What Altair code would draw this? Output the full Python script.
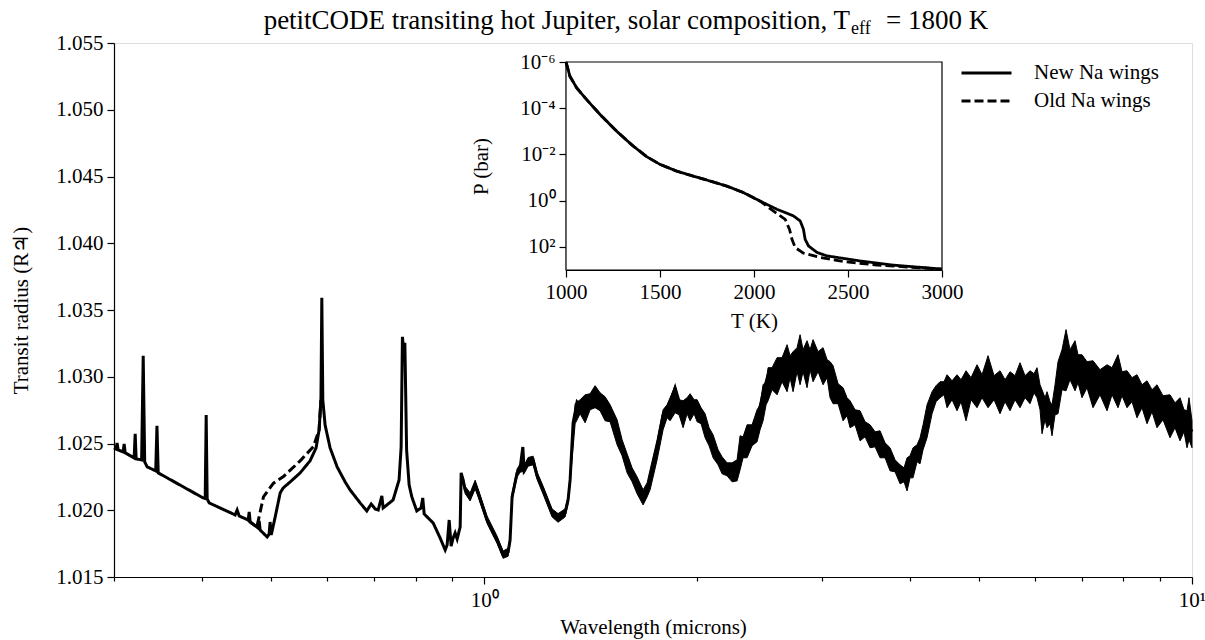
import altair as alt
import pandas as pd

FONT = "Liberation Serif"
FS = 21

# Transmission spectrum with the new Na line-wing treatment (micron, R_Jup)
wl_new = [0.3000, 0.3020, 0.3030, 0.3041, 0.3090, 0.3101, 0.3111, 0.3203, 0.3214, 0.3224,
          0.3282, 0.3299, 0.3315, 0.3342, 0.3436, 0.3450, 0.3464, 0.4010, 0.4036, 0.4049,
          0.4062, 0.4089, 0.4449, 0.4478, 0.4508, 0.4642, 0.4657, 0.4672, 0.4795, 0.4811,
          0.4826, 0.4937, 0.4969, 0.4985, 0.5003, 0.5068, 0.5151, 0.5201, 0.5321, 0.5497,
          0.5676, 0.5789, 0.5846, 0.5881, 0.5898, 0.5917, 0.5961, 0.6059, 0.6199, 0.6363,
          0.6467, 0.6681, 0.6828, 0.6925, 0.7015, 0.7085, 0.7170, 0.7200, 0.7437, 0.7583,
          0.7634, 0.7666, 0.7696, 0.7727, 0.7771, 0.7835, 0.7904, 0.8032, 0.8145, 0.8190,
          0.8228, 0.8472, 0.8667, 0.8810, 0.8866, 0.8925, 0.8982, 0.9041, 0.9100, 0.9160,
          0.9250, 0.9280, 0.9339, 0.9401, 0.9554, 0.9712, 0.9807, 1.0098, 1.0432, 1.0637,
          1.0811, 1.0881, 1.0952, 1.1133, 1.1242, 1.1342, 1.1389, 1.1537, 1.1727, 1.1882,
          1.2116, 1.2474, 1.2720, 1.3013, 1.3140, 1.3227, 1.3356, 1.3532, 1.3888, 1.4114,
          1.4346, 1.4581, 1.5066, 1.5413, 1.5922, 1.6451, 1.6776, 1.6995, 1.7161, 1.7557,
          1.7899, 1.8310, 1.8612, 1.8915, 1.9415, 1.9990, 2.0513, 2.1054, 2.1685, 2.2400,
          2.2845, 2.3067, 2.3521, 2.4304, 2.4784, 2.5184, 2.5930, 2.6792, 2.7950, 2.9155,
          3.0119, 3.0812, 3.1111, 3.2144, 3.2880, 3.3970, 3.5094, 3.6253, 3.7449, 3.8946,
          3.9588, 3.9967, 4.1290, 4.2244, 4.2654, 4.4056, 4.4776, 4.7019, 4.9368, 5.1510,
          5.5335, 5.7160, 6.0220, 6.1400, 6.3430, 6.5100, 6.6375, 6.8350, 6.9927, 7.2475,
          7.5840, 7.8640, 8.0970, 8.3630, 8.9250, 9.3090, 9.6180, 9.8380, 10.000]
r_new = [1.02467, 1.02459, 1.02504, 1.02452, 1.02437, 1.02497, 1.02430, 1.02392, 1.02572, 1.02385,
         1.02377, 1.03157, 1.02362, 1.02325, 1.02295, 1.02632, 1.02280, 1.02092, 1.02088, 1.02714,
         1.02085, 1.02055, 1.01965, 1.02002, 1.01957, 1.01927, 1.01987, 1.01912, 1.01867, 1.01920,
         1.01852, 1.01800, 1.01822, 1.01912, 1.01815, 1.01950, 1.02130, 1.02167, 1.02212, 1.02280,
         1.02370, 1.02467, 1.02602, 1.02827, 1.03591, 1.02827, 1.02639, 1.02467, 1.02325, 1.02212,
         1.02152, 1.02055, 1.01995, 1.02047, 1.02010, 1.02002, 1.02107, 1.02017, 1.02077, 1.02227,
         1.02474, 1.03299, 1.03202, 1.03254, 1.02452, 1.02190, 1.02100, 1.01995, 1.02017, 1.02092,
         1.01972, 1.01905, 1.01792, 1.01702, 1.01740, 1.01927, 1.01732, 1.01792, 1.01830, 1.01785,
         1.01875, 1.02280, 1.02227, 1.02152, 1.02100, 1.02190, 1.02130, 1.01927, 1.01777, 1.01665,
         1.01687, 1.01777, 1.02100, 1.02280, 1.02317, 1.02474, 1.02302, 1.02362, 1.02377, 1.02257,
         1.02152, 1.01980, 1.01942, 1.01980, 1.02077, 1.02227, 1.02654, 1.02812, 1.02752, 1.02842,
         1.02902, 1.02812, 1.02707, 1.02557, 1.02332, 1.02182, 1.02077, 1.02137, 1.02242, 1.02474,
         1.02714, 1.02804, 1.02917, 1.02789, 1.02827, 1.02782, 1.02654, 1.02474, 1.02332, 1.02242,
         1.02302, 1.02489, 1.02549, 1.02677, 1.02879, 1.03014, 1.03089, 1.03127, 1.03202, 1.03142,
         1.03067, 1.02977, 1.02864, 1.02789, 1.02729, 1.02632, 1.02557, 1.02474, 1.02362, 1.02242,
         1.02205, 1.02317, 1.02452, 1.02692, 1.02789, 1.02917, 1.02887, 1.02917, 1.02947, 1.02977,
         1.02917, 1.02939, 1.02932, 1.02789, 1.02752, 1.02887, 1.03127, 1.03089, 1.03037, 1.03014,
         1.02992, 1.02977, 1.02932, 1.02864, 1.02812, 1.02737, 1.02692, 1.02662, 1.02588]

# Old Na line-wing treatment, over the range where it departs from the new one
wl_old = [0.4642, 0.4672, 0.4775, 0.4878, 0.5040, 0.5206, 0.5497, 0.5740, 0.5846, 0.5881]
r_old = [1.01927, 1.01912, 1.01875, 1.02100, 1.02203, 1.02252, 1.02370, 1.02477, 1.02602, 1.02827]

# Envelope of the dense molecular line forest from the near to the mid infrared
wl_band = [0.9339, 0.9401, 0.9554, 0.9712, 0.9807, 1.0098, 1.0432, 1.0637, 1.0811, 1.0881,
           1.0952, 1.1133, 1.1242, 1.1342, 1.1389, 1.1537, 1.1727, 1.1882, 1.2116, 1.2474,
           1.2720, 1.3013, 1.3140, 1.3227,
           1.3444, 1.3665, 1.3889, 1.4116, 1.4347, 1.4582, 1.4822, 1.5065, 1.5412, 1.5665,
           1.5921, 1.6182, 1.6448, 1.6772, 1.6991, 1.7158, 1.7553, 1.7899, 1.8133, 1.8311,
           1.8611, 1.8855, 1.9102, 1.9352, 1.9542, 1.9798, 1.9992, 2.0254, 2.0519, 2.0788,
           2.1060, 2.1405, 2.1685, 2.2041, 2.2402, 2.2769, 2.2993, 2.3218, 2.3522, 2.3907,
           2.4299, 2.4537, 2.4778, 2.5022, 2.5184, 2.5514, 2.5933, 2.6357, 2.6790, 2.7052,
           2.7317, 2.7675, 2.7946, 2.8220, 2.8589, 2.8870, 2.9153, 2.9631, 3.0117, 3.0512,
           3.0811, 3.1113, 3.1623, 3.2141, 3.2562, 3.2881, 3.3420, 3.3968, 3.4526, 3.5092,
           3.5667, 3.6251, 3.6845, 3.7450, 3.8064, 3.8687, 3.9194, 3.9579, 3.9966, 4.0358,
           4.0887, 4.1288, 4.1693, 4.2239, 4.2931, 4.3494, 4.4063, 4.4640, 4.5077, 4.5816,
           4.6567, 4.7177, 4.7950, 4.8736, 4.9697, 5.0512, 5.1507, 5.2522, 5.3556, 5.4435,
           5.5327, 5.6234, 5.7156, 5.8092, 5.9046, 5.9819, 6.0405, 6.0997, 6.1396, 6.1997,
           6.2403, 6.3015, 6.3425, 6.4047, 6.4674, 6.5521, 6.6379, 6.7248, 6.8351, 6.9020,
           6.9925, 7.1070, 7.2472, 7.4142, 7.5854, 7.7092, 7.8610, 7.9640, 8.0946, 8.2271,
           8.3622, 8.4992, 8.6385, 8.7801, 8.9239, 9.1000, 9.3095, 9.4621, 9.6172, 9.7431,
           9.8388, 9.9029, 10.000]
r_band_hi = [1.02250, 1.02180, 1.02130, 1.02225, 1.02160, 1.01955, 1.01805, 1.01695, 1.01715, 1.01800,
             1.02125, 1.02310, 1.02345, 1.02350, 1.02335, 1.02395, 1.02405, 1.02285, 1.02180, 1.02010,
             1.01975, 1.02010, 1.02105, 1.02255,
             1.02798, 1.02828, 1.02865, 1.02873, 1.02933, 1.02880, 1.02850, 1.02790, 1.02678, 1.02528,
             1.02423, 1.02318, 1.02250, 1.02153, 1.02205, 1.02303, 1.02528, 1.02753, 1.02790, 1.02843,
             1.02933, 1.02828, 1.02820, 1.02843, 1.02873, 1.02828, 1.02828, 1.02768, 1.02723, 1.02618,
             1.02565, 1.02453, 1.02400, 1.02355, 1.02355, 1.02378, 1.02558, 1.02550, 1.02640, 1.02640,
             1.02753, 1.02790, 1.02940, 1.02963, 1.03068, 1.03068, 1.03143, 1.03143, 1.03240, 1.03158,
             1.03188, 1.03218, 1.03315, 1.03203, 1.03270, 1.03203, 1.03278, 1.03188, 1.03218, 1.03128,
             1.03113, 1.03083, 1.02948, 1.02918, 1.02843, 1.02820, 1.02753, 1.02745, 1.02663, 1.02640,
             1.02588, 1.02595, 1.02505, 1.02468, 1.02378, 1.02340, 1.02318, 1.02393, 1.02408, 1.02468,
             1.02490, 1.02543, 1.02640, 1.02790, 1.02888, 1.02933, 1.02963, 1.02963, 1.03015, 1.02970,
             1.03015, 1.02978, 1.03045, 1.02993, 1.03090, 1.03015, 1.03158, 1.03008, 1.03045, 1.02978,
             1.03038, 1.03008, 1.03105, 1.03008, 1.03045, 1.03023, 1.03068, 1.02940, 1.02903, 1.02843,
             1.02888, 1.02813, 1.02790, 1.02940, 1.03113, 1.03203, 1.03353, 1.03203, 1.03270, 1.03165,
             1.03165, 1.03113, 1.03120, 1.03053, 1.03090, 1.03068, 1.03165, 1.03038, 1.03045, 1.02993,
             1.03015, 1.02940, 1.02970, 1.02903, 1.02940, 1.02858, 1.02865, 1.02805, 1.02843, 1.02753,
             1.02745, 1.02843, 1.02670]
r_band_lo = [1.02200, 1.02125, 1.02070, 1.02160, 1.02100, 1.01900, 1.01750, 1.01640, 1.01655, 1.01750,
             1.02075, 1.02250, 1.02285, 1.02290, 1.02275, 1.02330, 1.02340, 1.02230, 1.02120, 1.01950,
             1.01910, 1.01950, 1.02050, 1.02200,
             1.02648, 1.02723, 1.02655, 1.02753, 1.02768, 1.02745, 1.02670, 1.02663, 1.02490, 1.02408,
             1.02280, 1.02213, 1.02123, 1.02040, 1.02100, 1.02153, 1.02378, 1.02603, 1.02693, 1.02670,
             1.02730, 1.02715, 1.02618, 1.02723, 1.02670, 1.02723, 1.02663, 1.02648, 1.02543, 1.02483,
             1.02393, 1.02340, 1.02273, 1.02258, 1.02213, 1.02220, 1.02303, 1.02393, 1.02393, 1.02483,
             1.02513, 1.02603, 1.02670, 1.02790, 1.02820, 1.02903, 1.02865, 1.02963, 1.02888, 1.02993,
             1.02888, 1.03038, 1.02940, 1.03038, 1.02918, 1.03053, 1.02963, 1.03038, 1.02940, 1.02993,
             1.02843, 1.02798, 1.02798, 1.02670, 1.02708, 1.02618, 1.02640, 1.02520, 1.02550, 1.02468,
             1.02475, 1.02393, 1.02393, 1.02295, 1.02288, 1.02198, 1.02213, 1.02145, 1.02243, 1.02243,
             1.02363, 1.02348, 1.02453, 1.02543, 1.02723, 1.02813, 1.02843, 1.02865, 1.02768, 1.02828,
             1.02745, 1.02813, 1.02670, 1.02828, 1.02768, 1.02843, 1.02768, 1.02828, 1.02723, 1.02813,
             1.02745, 1.02828, 1.02768, 1.02843, 1.02798, 1.02880, 1.02843, 1.02753, 1.02573, 1.02678,
             1.02618, 1.02648, 1.02558, 1.02715, 1.02723, 1.02903, 1.02895, 1.02978, 1.02895, 1.02955,
             1.02843, 1.02918, 1.02768, 1.02865, 1.02745, 1.02865, 1.02768, 1.02858, 1.02768, 1.02813,
             1.02693, 1.02768, 1.02648, 1.02738, 1.02618, 1.02678, 1.02543, 1.02618, 1.02520, 1.02588,
             1.02468, 1.02528, 1.02468]

# Inset: pressure-temperature profiles (K, bar)
T_new = [1000, 1021, 1057, 1110, 1181, 1270, 1358, 1430, 1500, 1589, 1677, 1766, 1855,
         1944, 2033, 2121, 2210, 2246, 2263, 2272, 2290, 2335, 2388, 2565, 2742, 3000]
P_new = [1.0e-6, 4.17e-6, 1.32e-5, 4.27e-5, 1.86e-4, 1.0e-3, 4.37e-3, 1.26e-2, 2.69e-2,
         5.25e-2, 8.71e-2, 0.141, 0.234, 0.447, 1.05, 2.34, 4.57, 7.59, 17.4, 46.8, 91.2,
         174.0, 245.0, 407.0, 617.0, 912.0]
T_old = [1000, 1021, 1057, 1110, 1181, 1270, 1358, 1430, 1500, 1589, 1677, 1766, 1855,
         1944, 2033, 2095, 2166, 2189, 2202, 2219, 2263, 2352, 2476, 2654, 3000]
P_old = [1.0e-6, 4.17e-6, 1.32e-5, 4.27e-5, 1.86e-4, 1.0e-3, 4.37e-3, 1.26e-2, 2.69e-2,
         5.25e-2, 8.71e-2, 0.141, 0.234, 0.447, 1.05, 2.51, 6.46, 17.4, 46.8, 107.0, 186.0,
         288.0, 427.0, 617.0, 912.0]

series = ["New Na wings", "Old Na wings"]
wl_ticks = [0.3, 0.4, 0.5, 0.6, 0.7, 0.8, 0.9, 1, 2, 3, 4, 5, 6, 7, 8, 9, 10]
r_ticks = [1.015, 1.020, 1.025, 1.030, 1.035, 1.040, 1.045, 1.050, 1.055]
T_ticks = [1000, 1500, 2000, 2500, 3000]
P_ticks = [1e-6, 1e-4, 1e-2, 1, 100]
T_range = [1000, 3000]
P_range = [1e-6, 1e3]

title_main = "petitCODE transiting hot Jupiter, solar composition, T"
title_sub = "eff"
title_tail = "=  1800 K"

W, H = 1078, 534

spec = pd.DataFrame({
    "wl": wl_new + wl_old,
    "r": r_new + r_old,
    "series": [series[0]] * len(wl_new) + [series[1]] * len(wl_old),
    "idx": list(range(len(wl_new))) + list(range(len(wl_old))),
})
band = pd.DataFrame({"wl": wl_band, "hi": r_band_hi, "lo": r_band_lo})
tp = pd.DataFrame({
    "T": T_new + T_old,
    "P": P_new + P_old,
    "series": [series[0]] * len(T_new) + [series[1]] * len(T_old),
    "idx": list(range(len(T_new))) + list(range(len(T_old))),
})
box = pd.DataFrame({"T0": [T_range[0]], "T1": [T_range[1]], "P0": [P_range[0]], "P1": [P_range[1]]})

common_axis = dict(labelFont=FONT, labelFontSize=FS, titleFont=FONT, titleFontSize=FS,
                   titleFontWeight="normal", labelColor="black", titleColor="black",
                   domainColor="black", tickColor="black", grid=False, domainWidth=1.2,
                   tickWidth=1.2, labelFlush=False)

x_scale = alt.Scale(type="log", domain=[0.3, 10], nice=False)
y_scale = alt.Scale(domain=[1.015, 1.055], nice=False, zero=False)
x_axis = alt.Axis(values=wl_ticks, orient="bottom", title="Wavelength (microns)",
                  labelExpr="datum.value == 1 ? '10⁰' : datum.value == 10 ? '10¹' : ''",
                  tickSize={"condition": {"test": "datum.value == 1 || datum.value == 10", "value": 7},
                            "value": 4},
                  labelPadding=5, titlePadding=6, **common_axis)
y_axis = alt.Axis(values=r_ticks, orient="left", format=".3f", title="Transit radius (R♃)",
                  tickSize=7, labelPadding=4, titlePadding=24, **common_axis)

X = alt.X("wl:Q", scale=x_scale, axis=x_axis)
Y = alt.Y("r:Q", scale=y_scale, axis=y_axis)

dash = alt.StrokeDash(
    "series:N",
    scale=alt.Scale(domain=series, range=[[1, 0], [9, 4]]),
    legend=alt.Legend(orient="none", legendX=846, legendY=16, title=None, padding=0,
                      labelFont=FONT, labelFontSize=FS, labelColor="black",
                      symbolType="stroke", symbolSize=2500, symbolStrokeWidth=2.8,
                      symbolStrokeColor="black", labelOffset=21, clipHeight=28,
                      rowPadding=0),
)

band_layer = alt.Chart(band).mark_area(color="black", stroke="black", strokeWidth=1).encode(
    x=X, y=alt.Y("lo:Q", scale=y_scale, axis=y_axis), y2="hi:Q")
line_layer = alt.Chart(spec).mark_line(color="black", strokeWidth=3).encode(
    x=X, y=Y, strokeDash=dash, order="idx:Q")
main = alt.layer(band_layer, line_layer)

# Inset placed inside the main panel through its own scale ranges
t_scale = alt.Scale(domain=T_range, range=[452, 828], nice=False, zero=False)
p_scale = alt.Scale(type="log", domain=P_range, range=[19, 227], nice=False)
t_axis = alt.Axis(values=T_ticks, orient="bottom", offset=227 - H, title="T (K)", format="d",
                  tickSize=7, labelPadding=4, titlePadding=8, **common_axis)
p_axis = alt.Axis(values=P_ticks, orient="left", offset=-452, title="P (bar)", tickSize=7,
                  labelPadding=4, titlePadding=28,
                  labelExpr="datum.value < 1e-5 ? '10⁻⁶' : datum.value < 1e-3 ? '10⁻⁴' : "
                            "datum.value < 0.1 ? '10⁻²' : datum.value < 10 ? '10⁰' : '10²'",
                  **common_axis)

box_layer = alt.Chart(box).mark_rect(fill="white", stroke="black", strokeWidth=1.2).encode(
    x=alt.X("T0:Q", scale=t_scale, axis=t_axis), x2="T1:Q",
    y=alt.Y("P0:Q", scale=p_scale, axis=p_axis), y2="P1:Q")
tp_layer = alt.Chart(tp).mark_line(color="black", strokeWidth=2.8).encode(
    x=alt.X("T:Q", scale=t_scale, axis=t_axis),
    y=alt.Y("P:Q", scale=p_scale, axis=p_axis),
    strokeDash=dash, order="idx:Q")
inset = alt.layer(box_layer, tp_layer)

# Title with a subscripted T_eff
title_df = pd.DataFrame({"a": [title_main], "b": [title_sub], "c": [title_tail]})
t1 = alt.Chart(title_df).mark_text(font=FONT, fontSize=27, align="right", baseline="alphabetic",
                                   color="black").encode(text="a:N", x=alt.value(736), y=alt.value(-14))
t2 = alt.Chart(title_df).mark_text(font=FONT, fontSize=18, align="left", baseline="alphabetic",
                                   color="black").encode(text="b:N", x=alt.value(737), y=alt.value(-9))
t3 = alt.Chart(title_df).mark_text(font=FONT, fontSize=27, align="left", baseline="alphabetic",
                                   color="black").encode(text="c:N", x=alt.value(772), y=alt.value(-14))

chart = alt.layer(main, inset, t1, t2, t3).resolve_scale(
    x="independent", y="independent"
).properties(
    width=W, height=H,
    padding={"left": 114, "top": 43, "right": 13, "bottom": 63},
    autosize=alt.AutoSizeParams(type="none"),
).configure_view(
    stroke="black", strokeWidth=1.2
).configure_axis(
    labelFont=FONT, titleFont=FONT
).configure_legend(
    labelFont=FONT
).configure_text(
    font=FONT
).configure(background="white")

chart.save("out.html", embed_options={"renderer": "svg", "actions": False})
